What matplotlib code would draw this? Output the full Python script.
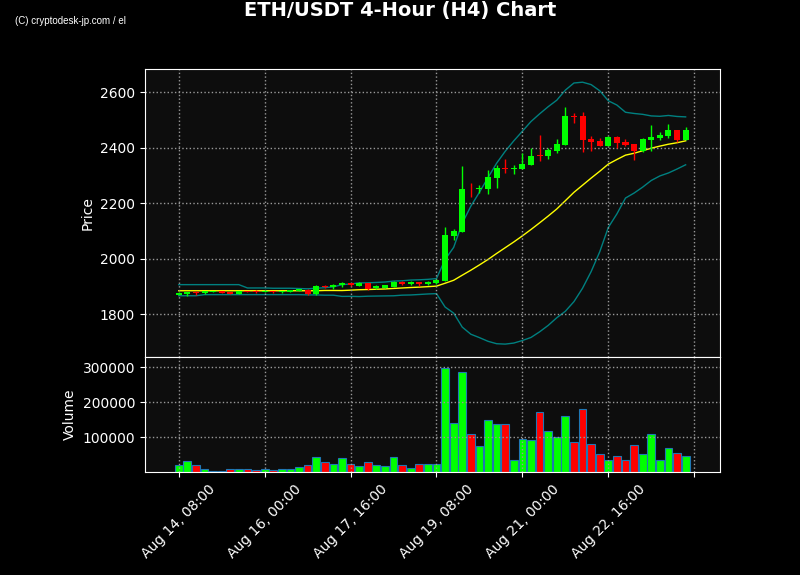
import matplotlib
matplotlib.use("Agg")
import matplotlib.pyplot as plt
import numpy as np
import pandas as pd

# 4-hour candles, ETH/USDT
times = pd.date_range("2024-08-14 08:00", periods=60, freq="4h")

opens = [1870, 1874, 1881, 1876, 1880, 1883, 1880, 1874, 1882, 1882,
         1880, 1883, 1878, 1881, 1884, 1888, 1872, 1900, 1899, 1903,
         1911, 1902, 1911, 1893, 1895, 1897, 1915, 1908, 1915, 1907,
         1911, 1920, 2083, 2097, 2252, 2249, 2250, 2290, 2326, 2322,
         2324, 2338, 2373, 2368, 2388, 2410, 2514, 2513, 2430, 2425,
         2406, 2439, 2420, 2412, 2386, 2428, 2434, 2442, 2463, 2428]
highs = [1878, 1881, 1884, 1883, 1884, 1884, 1881, 1884, 1884, 1886,
         1885, 1884, 1883, 1886, 1892, 1889, 1904, 1905, 1907, 1914,
         1913, 1915, 1912, 1905, 1905, 1920, 1918, 1919, 1917, 1918,
         1925, 2112, 2105, 2333, 2271, 2264, 2318, 2336, 2358, 2336,
         2380, 2398, 2445, 2400, 2431, 2545, 2526, 2527, 2440, 2434,
         2441, 2441, 2430, 2413, 2433, 2481, 2455, 2484, 2465, 2473]
lows = [1868, 1865, 1870, 1873, 1878, 1876, 1872, 1872, 1879, 1876,
        1878, 1876, 1876, 1879, 1882, 1868, 1868, 1893, 1892, 1898,
        1901, 1900, 1888, 1891, 1893, 1896, 1903, 1903, 1901, 1903,
        1909, 1918, 2068, 2095, 2222, 2236, 2233, 2253, 2307, 2305,
        2322, 2336, 2352, 2360, 2382, 2408, 2488, 2383, 2388, 2405,
        2404, 2400, 2404, 2355, 2384, 2388, 2427, 2434, 2420, 2426]
closes = [1876, 1880, 1876, 1882, 1883, 1877, 1874, 1882, 1881, 1880,
          1883, 1878, 1882, 1885, 1890, 1873, 1900, 1896, 1906, 1911,
          1903, 1911, 1892, 1901, 1903, 1915, 1908, 1915, 1908, 1915,
          1921, 2085, 2098, 2250, 2249, 2254, 2295, 2326, 2322, 2326,
          2341, 2370, 2370, 2391, 2413, 2513, 2511, 2427, 2421, 2406,
          2439, 2418, 2410, 2386, 2431, 2437, 2445, 2463, 2428, 2463]
volumes = [19000, 30500, 19000, 7600, 3800, 3800, 7600, 7600, 7600, 4800,
           7600, 4800, 7600, 7600, 13300, 19000, 42000, 27600, 22000, 39000,
           22000, 16000, 27600, 19000, 16000, 42000, 19000, 12400, 22000, 22000,
           22000, 298000, 139000, 285000, 107600, 73300, 147600, 138000, 138000, 35000,
           93300, 90500, 173000, 116000, 99000, 159000, 84800, 179000, 79000, 50500,
           35000, 44800, 33300, 76000, 50500, 107600, 35000, 67600, 53300, 44800]

# Bollinger values for the first 19 candles (window not full yet)
bb_mid_head = [1884, 1884, 1884, 1884, 1884, 1884, 1884, 1884, 1884, 1884,
               1884, 1884, 1884, 1884, 1884, 1884, 1884, 1885, 1885]
bb_up_head = [1906, 1906, 1906, 1906, 1906, 1906, 1906, 1906, 1894, 1894,
              1894, 1893, 1893, 1893, 1892, 1891, 1893, 1895, 1898]
bb_lo_head = [1866, 1866, 1866, 1870, 1870, 1870, 1870, 1870, 1870, 1870,
              1870, 1870, 1870, 1870, 1870, 1869, 1869, 1868, 1868]

df = pd.DataFrame({"open": opens, "high": highs, "low": lows,
                   "close": closes, "volume": volumes}, index=times)

# 20-period Bollinger Bands
mid = df["close"].rolling(20).mean()
std = df["close"].rolling(20).std()
upper = mid + 2 * std
lower = mid - 2 * std
n_head = len(bb_mid_head)
mid.iloc[:n_head] = bb_mid_head
upper.iloc[:n_head] = bb_up_head
lower.iloc[:n_head] = bb_lo_head

x = np.arange(len(df))
up = df["close"] >= df["open"]
colors = np.where(up, "#00ff00", "#ff0000")

fig = plt.figure(figsize=(8, 5.75), dpi=100, facecolor="black")
ax = fig.add_axes([0.181, 0.379, 0.719, 0.501])
axv = fig.add_axes([0.181, 0.179, 0.719, 0.200], sharex=ax)

for a in (ax, axv):
    a.set_facecolor("#0d0d0d")
    for s in a.spines.values():
        s.set_color("white")
    a.tick_params(colors="white")
    a.grid(True, linestyle=":", color="#999999", linewidth=1)

# candles
ax.vlines(x, df["low"], df["high"], colors=colors, linewidth=1, zorder=2)
ax.bar(x, (df["close"] - df["open"]).abs(), bottom=df[["open", "close"]].min(axis=1),
       width=0.7, color=colors, zorder=3)

# bands
ax.plot(x, upper, color="#008080", linewidth=1, zorder=1)
ax.plot(x, lower, color="#008080", linewidth=1, zorder=1)
ax.plot(x, mid, color="yellow", linewidth=1, zorder=1)

ax.set_ylim(1645, 2683)
ax.set_yticks([1800, 2000, 2200, 2400, 2600])
ax.set_ylabel("Price", color="white")
ax.tick_params(axis="x", labelbottom=False)

# volume
axv.bar(x, df["volume"], width=0.9, color=colors, edgecolor="#1f77b4", linewidth=0.8)
axv.set_ylim(0, 328500)
axv.set_yticks([100000, 200000, 300000])
axv.set_ylabel("Volume", color="white")

ticks = list(range(0, 61, 10))
labels = [times[i].strftime("%b %d, %H:%M") if i < len(times) else "" for i in ticks]
axv.set_xticks(ticks)
axv.set_xticklabels(labels, rotation=45, ha="center")
axv.set_xlim(-3.95, 63.0)

fig.text(0.5, 0.981, "ETH/USDT 4-Hour (H4) Chart", color="white", fontsize=14,
         fontweight="bold", ha="center", va="center")
fig.text(15 / 800, 1 - 21 / 575, "(C) cryptodesk-jp.com / el", color="white",
         fontsize=7, family="Liberation Sans", ha="left", va="center")

fig.savefig("out.png", dpi=100, facecolor="black")
